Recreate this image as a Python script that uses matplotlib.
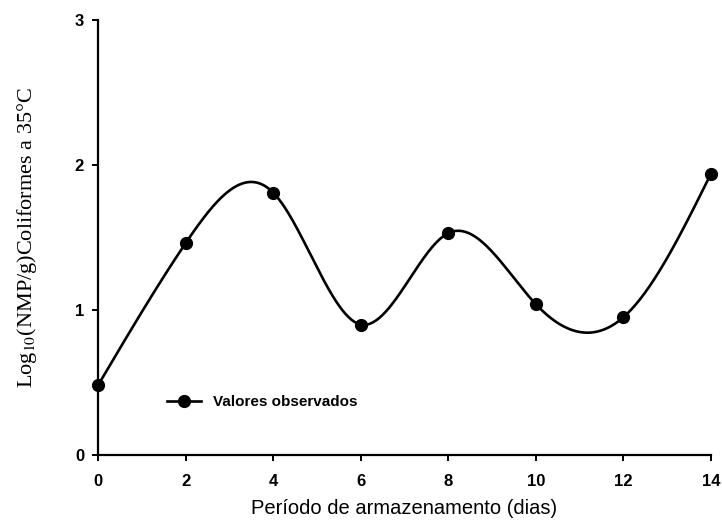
import numpy as np
import matplotlib
matplotlib.use("Agg")
import matplotlib.pyplot as plt

# storage days and observed log10 counts
dias = [0, 2, 4, 6, 8, 10, 12, 14]
log_nmp = [0.48, 1.46, 1.81, 0.90, 1.53, 1.04, 0.95, 1.94]

x_ticks = [0, 2, 4, 6, 8, 10, 12, 14]
y_ticks = [0, 1, 2, 3]


def natural_spline(x, y, n=400):
    # plain natural cubic spline, just for the smooth line
    x = np.asarray(x, float)
    y = np.asarray(y, float)
    k = len(x)
    h = np.diff(x)
    A = np.zeros((k, k))
    b = np.zeros(k)
    A[0, 0] = 1
    A[-1, -1] = 1
    for i in range(1, k - 1):
        A[i, i - 1] = h[i - 1]
        A[i, i] = 2 * (h[i - 1] + h[i])
        A[i, i + 1] = h[i]
        b[i] = 6 * ((y[i + 1] - y[i]) / h[i] - (y[i] - y[i - 1]) / h[i - 1])
    M = np.linalg.solve(A, b)
    xs = np.linspace(x[0], x[-1], n)
    ys = np.empty_like(xs)
    for j, xv in enumerate(xs):
        i = min(np.searchsorted(x, xv, side="right") - 1, k - 2)
        t1 = x[i + 1] - xv
        t0 = xv - x[i]
        ys[j] = (M[i] * t1**3 + M[i + 1] * t0**3) / (6 * h[i]) \
            + (y[i] / h[i] - M[i] * h[i] / 6) * t1 \
            + (y[i + 1] / h[i] - M[i + 1] * h[i] / 6) * t0
    return xs, ys


xs, ys = natural_spline(dias, log_nmp)

plt.rcParams['font.family'] = ['Liberation Sans', 'DejaVu Sans']
plt.rcParams['mathtext.fontset'] = 'stix'

fig = plt.figure(figsize=(7.22, 5.23), dpi=100)
ax = fig.add_axes([0.1357, 0.130, 0.849, 0.8318])

ax.plot(xs, ys, color='black', linewidth=1.9, zorder=2)
ax.plot(dias, log_nmp, 'o', color='black', markersize=8.5, zorder=3,
        clip_on=False)
# legend handle: line with dot
ax.plot([], [], '-o', color='black', linewidth=1.9, markersize=8.5,
        label='Valores observados')

ax.set_xlim(0, 14)
ax.set_ylim(0, 3)
ax.set_xticks(x_ticks)
ax.set_yticks(y_ticks)

for s in ['top', 'right']:
    ax.spines[s].set_visible(False)
for s in ['left', 'bottom']:
    ax.spines[s].set_linewidth(1.6)
ax.tick_params(direction='out', length=4, width=1.4, labelsize=12)
ax.tick_params(axis='x', pad=10)
ax.tick_params(axis='y', pad=6)
for lab in ax.get_xticklabels() + ax.get_yticklabels():
    lab.set_fontweight('bold')

ax.set_xlabel('Período de armazenamento (dias)', fontsize=14.5, labelpad=7)
ax.set_ylabel(r'Log$_{10}$(NMP/g)Coliformes a 35°C', fontsize=16,
              family=['Liberation Serif', 'DejaVu Serif'], labelpad=26)

leg = ax.legend(loc='center left', bbox_to_anchor=(0.09, 0.122), frameon=False,
                handlelength=2.2, handletextpad=0.8,
                prop={'size': 11, 'weight': 'bold'})

fig.savefig('out.png', dpi=100)
